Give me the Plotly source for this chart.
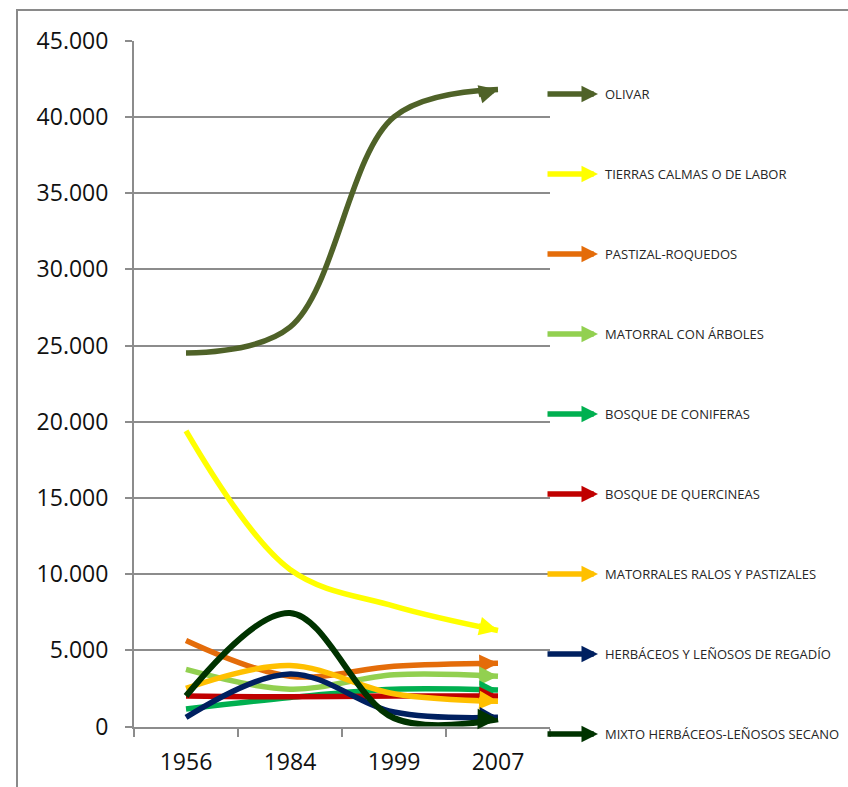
import plotly.graph_objects as go

# Superficie por uso del suelo (ha)
years = ["1956", "1984", "1999", "2007"]

olivar = [24500, 26200, 40000, 41800]
tierras_calmas = [19400, 10300, 7900, 6300]
pastizal_roquedos = [5650, 3300, 3950, 4150]
matorral_arboles = [3750, 2450, 3400, 3300]
bosque_coniferas = [1150, 1900, 2450, 2400]
bosque_quercineas = [2000, 1950, 2000, 2000]
matorrales_ralos = [2500, 4000, 2150, 1650]
herbaceos_regadio = [600, 3450, 950, 600]
mixto_secano = [2000, 7450, 550, 480]

series_names = [
    "OLIVAR",
    "TIERRAS CALMAS O DE LABOR",
    "PASTIZAL-ROQUEDOS",
    "MATORRAL CON ÁRBOLES",
    "BOSQUE DE CONIFERAS",
    "BOSQUE DE QUERCINEAS",
    "MATORRALES RALOS Y PASTIZALES",
    "HERBÁCEOS Y LEÑOSOS DE REGADÍO",
    "MIXTO HERBÁCEOS-LEÑOSOS SECANO",
]
series_values = [
    olivar, tierras_calmas, pastizal_roquedos, matorral_arboles,
    bosque_coniferas, bosque_quercineas, matorrales_ralos,
    herbaceos_regadio, mixto_secano,
]
series_colors = [
    "#4F6228", "#FFFF00", "#E46C0A", "#92D050", "#00B050",
    "#C00000", "#FFC000", "#002060", "#003300",
]

W, H = 848, 787
FONT = "Open Sans"
GRID = "#8c8c8c"

fig = go.Figure()

annotations = []
for name, vals, col in zip(series_names, series_values, series_colors):
    lw = 6 if name.startswith("MIXTO") else 5.5
    fig.add_trace(go.Scatter(
        x=years, y=vals, name=name, mode="lines",
        line=dict(color=col, width=lw, shape="spline", smoothing=1, backoff=10),
        hoverinfo="x+y+name",
    ))
    # arrow head at the last point, oriented along the final segment
    f = 0.2
    n = len(vals) - 1
    annotations.append(dict(
        x=n, y=vals[-1], xref="x", yref="y",
        ax=n - f, ay=vals[-1] - f * (vals[-1] - vals[-2]),
        axref="x", ayref="y",
        text="", showarrow=True, arrowhead=2, arrowsize=0.68,
        arrowwidth=lw, arrowcolor=col,
    ))

# side key: arrow + label per series
row0, step = 94, 80
for i, (name, col) in enumerate(zip(series_names, series_colors)):
    ypix = row0 + step * i
    yp = (H - ypix) / H
    annotations.append(dict(
        x=598 / W, y=yp, xref="paper", yref="paper",
        ax=-52, ay=0, text="", showarrow=True, arrowhead=2,
        arrowsize=0.6, arrowwidth=5.5, arrowcolor=col,
    ))
    annotations.append(dict(
        x=603 / W, y=yp, xref="paper", yref="paper",
        xanchor="left", yanchor="middle", showarrow=False,
        text=name, font=dict(family=FONT, size=13, color="#262626"),
    ))

fig.update_layout(
    width=W, height=H,
    margin=dict(l=0, r=0, t=0, b=0, autoexpand=False),
    paper_bgcolor="white", plot_bgcolor="white",
    showlegend=False,
    separators=",.",
    font=dict(family=FONT, color="#111111"),
    annotations=annotations,
    shapes=[dict(
        type="rect", xref="paper", yref="paper",
        x0=17 / W, x1=1.05, y0=-0.05, y1=(H - 10) / H,
        line=dict(color="#8a8a8a", width=2), fillcolor="rgba(0,0,0,0)",
        layer="below",
    )],
    xaxis=dict(
        domain=[134 / W, 550 / W], type="category",
        range=[-0.5, 3.5], tickson="boundaries",
        ticks="outside", ticklen=8, tickwidth=2, tickcolor=GRID,
        showgrid=False, showline=True, linecolor=GRID, linewidth=2,
        zeroline=False, ticklabelstandoff=14,
        tickfont=dict(family=FONT, size=23, color="#111111"),
    ),
    yaxis=dict(
        domain=[(H - 726.5) / H, (H - 40.7) / H],
        range=[0, 45000], tick0=0, dtick=5000, tickformat=",d",
        showgrid=True, gridcolor=GRID, gridwidth=2,
        ticks="outside", ticklen=7, tickwidth=2, tickcolor=GRID,
        showline=True, linecolor=GRID, linewidth=2, zeroline=False,
        ticklabelstandoff=12,
        tickfont=dict(family=FONT, size=23, color="#111111"),
    ),
)

fig.write_html("out.html")
